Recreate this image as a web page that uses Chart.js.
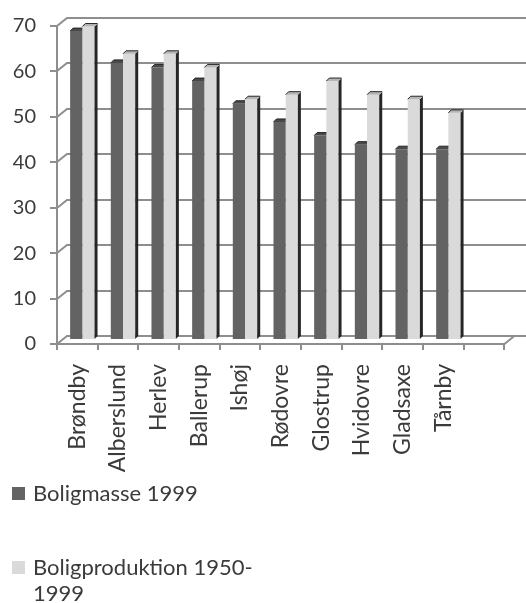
<!DOCTYPE html>
<html>
<head>
<meta charset="utf-8">
<script src="https://cdn.jsdelivr.net/npm/chart.js@4"></script>
<style>
  html, body { margin: 0; padding: 0; background: #ffffff; }
  #wrap { width: 526px; height: 603px; position: relative; }
</style>
</head>
<body>
<div id="wrap"><canvas id="c" width="526" height="603"></canvas></div>
<script>
// Kommuner (the last slot is left empty on the axis)
const categories = ['Brøndby', 'Alberslund', 'Herlev', 'Ballerup', 'Ishøj', 'Rødovre', 'Glostrup', 'Hvidovre', 'Gladsaxe', 'Tårnby', ''];
const boligmasse1999 = [68, 61, 60, 57, 52, 48, 45, 43, 42, 42, null];
const boligproduktion = [69, 63, 63, 60, 53, 54, 57, 54, 53, 50, null];
const seriesNames = ['Boligmasse 1999', 'Boligproduktion 1950-1999'];
const yTickValues = [0, 10, 20, 30, 40, 50, 60, 70];

const FONT = 'Lato, "Open Sans", sans-serif';
const TEXT = '#3b3b3b';
const LINE = '#8e8e8e';
const DARK = '#636363';
const LIGHT = '#dadada';

// depth of the pseudo-3D box: back wall offset relative to the front axes
const depth = { dx: 10, dy: -8 };

function wrapText(ctx, text, maxW) {
  const tokens = text.match(/\s*[^\s-]+-?/g) || [];
  const lines = [];
  let line = '';
  tokens.forEach(tok => {
    if (line && ctx.measureText(line + tok).width > maxW) {
      lines.push(line);
      line = tok.trimStart();
    } else {
      line += tok;
    }
  });
  if (line) lines.push(line);
  return lines;
}

const box3d = {
  id: 'box3d',
  beforeDatasetsDraw(chart) {
    const { ctx, chartArea: a, scales: { y } } = chart;
    ctx.save();
    ctx.strokeStyle = LINE;
    ctx.lineWidth = 2;
    // side-wall diagonals and back-wall gridlines
    y.ticks.forEach(t => {
      const py = Math.round(y.getPixelForValue(t.value));
      ctx.beginPath();
      ctx.moveTo(a.left, py);
      ctx.lineTo(a.left + depth.dx, py + depth.dy);
      ctx.lineTo(chart.width, py + depth.dy);
      ctx.stroke();
    });
    // right end of the floor
    ctx.beginPath();
    ctx.moveTo(a.right, a.bottom);
    ctx.lineTo(a.right + depth.dx, a.bottom + depth.dy);
    ctx.stroke();
    ctx.restore();
    // columns sit half way into the box
    ctx.save();
    ctx.translate(depth.dx / 2, depth.dy / 2);
  },
  afterDatasetDraw(chart, args) {
    const ctx = chart.ctx;
    const meta = chart.getDatasetMeta(args.index);
    const values = chart.data.datasets[args.index].data;
    const s = 3;
    const edge = '#262626';
    // the front column's right side is hidden behind its neighbour
    const front = args.index === 0;
    const top = front ? '#4a4a4a' : '#b5b5b5';
    meta.data.forEach((bar, i) => {
      if (values[i] == null) return;
      const { x, y, base, width } = bar.getProps(['x', 'y', 'base', 'width'], true);
      const l = x - width / 2, r = x + width / 2;
      const tr = front ? r : r + s;
      if (!front) {
        ctx.fillStyle = edge;
        ctx.beginPath();
        ctx.moveTo(r, y);
        ctx.lineTo(r + s, y - s);
        ctx.lineTo(r + s, base - s);
        ctx.lineTo(r, base);
        ctx.closePath();
        ctx.fill();
      }
      ctx.fillStyle = top;
      ctx.beginPath();
      ctx.moveTo(l, y);
      ctx.lineTo(l + s, y - s);
      ctx.lineTo(tr, y - s);
      ctx.lineTo(r, y);
      ctx.closePath();
      ctx.fill();
      ctx.strokeStyle = edge;
      ctx.lineWidth = 1;
      ctx.beginPath();
      ctx.moveTo(l, y);
      ctx.lineTo(l + s, y - s);
      ctx.lineTo(tr, y - s);
      ctx.stroke();
    });
  },
  afterDatasetsDraw(chart) {
    chart.ctx.restore();
  },
  afterDraw(chart) {
    // legend below the axis labels
    const ctx = chart.ctx;
    ctx.save();
    ctx.font = '22px ' + FONT;
    ctx.textBaseline = 'middle';
    ctx.textAlign = 'left';
    const items = [
      { y: 494, color: DARK },
      { y: 568, color: LIGHT }
    ];
    chart.data.datasets.forEach((ds, i) => {
      const it = items[i];
      ctx.fillStyle = it.color;
      ctx.fillRect(12, it.y - 7, 13, 13);
      ctx.fillStyle = TEXT;
      wrapText(ctx, ds.label, 235).forEach((ln, k) => {
        ctx.fillText(ln, 33, it.y + k * 26);
      });
    });
    ctx.restore();
  }
};

new Chart(document.getElementById('c'), {
  type: 'bar',
  data: {
    labels: categories,
    datasets: [
      { label: seriesNames[0], data: boligmasse1999, backgroundColor: DARK, clip: false },
      { label: seriesNames[1], data: boligproduktion, backgroundColor: LIGHT, clip: false }
    ]
  },
  options: {
    responsive: false,
    devicePixelRatio: 1,
    animation: false,
    events: [],
    layout: { padding: { left: 0, top: 23, right: 8, bottom: 0 } },
    datasets: { bar: { barPercentage: 1, categoryPercentage: 0.6 } },
    plugins: { legend: { display: false }, tooltip: { enabled: false } },
    scales: {
      x: {
        grid: { display: true, drawOnChartArea: false, drawTicks: true, tickLength: 6, color: LINE, lineWidth: 2, offset: true },
        border: { display: true, color: LINE, width: 2 },
        ticks: { color: TEXT, font: { family: FONT, size: 23 }, minRotation: 90, maxRotation: 90, autoSkip: false, padding: 14 },
        afterFit(scale) { scale.height = 259; }
      },
      y: {
        min: 0, max: 70,
        afterBuildTicks(scale) { scale.ticks = yTickValues.map(v => ({ value: v })); },
        grid: { display: true, drawOnChartArea: false, drawTicks: true, tickLength: 7, color: LINE, lineWidth: 2 },
        border: { display: true, color: LINE, width: 2 },
        ticks: { color: TEXT, font: { family: FONT, size: 20 }, padding: 14 },
        afterFit(scale) { scale.width = 57; }
      }
    }
  },
  plugins: [box3d]
});
</script>
</body>
</html>
